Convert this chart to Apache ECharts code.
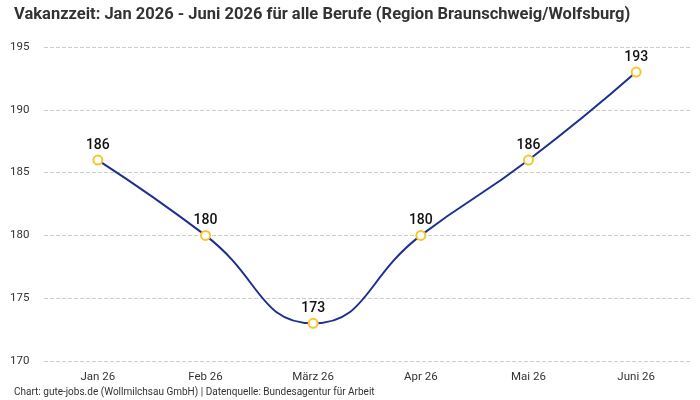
<!DOCTYPE html>
<html>
<head>
<meta charset="utf-8">
<script src="https://cdn.jsdelivr.net/npm/echarts@6/dist/echarts.min.js"></script>
<style>
  html, body { margin: 0; padding: 0; background: #fff; }
  #chart { width: 700px; height: 400px; }
</style>
</head>
<body>
<div id="chart"></div>
<script>
var months = ["Jan 26", "Feb 26", "März 26", "Apr 26", "Mai 26", "Juni 26"];
var vakanzzeit = [186, 180, 173, 180, 186, 193];

var fontFam = "Roboto, sans-serif";

var myChart = echarts.init(document.getElementById("chart"));

var option = {
    backgroundColor: "#ffffff",
    animation: false,
    textStyle: { fontFamily: fontFam },
    title: [{
        text: "Vakanzzeit: Jan 2026 - Juni 2026 für alle Berufe (Region Braunschweig/Wolfsburg)",
        left: 9,
        top: 1,
        textStyle: { fontFamily: fontFam, fontSize: 16.5, fontWeight: "bold", color: "#333333" }
    }, {
        text: "Chart: gute-jobs.de (Wollmilchsau GmbH) | Datenquelle: Bundesagentur für Arbeit",
        left: 9,
        bottom: -2,
        textStyle: { fontFamily: fontFam, fontSize: 10, fontWeight: "normal", color: "#333333" }
    }],
    grid: { left: 44, right: 10, top: 47, bottom: 39 },
    xAxis: {
        type: "category",
        data: months,
        boundaryGap: true,
        axisLine: { show: false },
        axisTick: { show: false },
        axisLabel: { color: "#333333", fontSize: 11.5, margin: 10, fontFamily: fontFam }
    },
    yAxis: {
        type: "value",
        min: 170,
        max: 195,
        interval: 5,
        axisLine: { show: false },
        axisTick: { show: false },
        axisLabel: { color: "#333333", fontSize: 11.5, align: "left", margin: 34, fontFamily: fontFam },
        splitLine: { lineStyle: { color: "#cccccc", type: "dashed", width: 1 } }
    },
    series: [{
        type: "line",
        data: vakanzzeit,
        smooth: true,
        symbol: "circle",
        symbolSize: 9,
        lineStyle: { color: "#1d2f8f", width: 2 },
        itemStyle: { color: "#ffffff", borderColor: "#f7c62f", borderWidth: 2 },
        label: {
            show: true,
            position: "top",
            distance: 2,
            color: "#111111",
            fontSize: 14,
            fontWeight: 500,
            fontFamily: fontFam
        }
    }]
};

myChart.setOption(option);
</script>
</body>
</html>
